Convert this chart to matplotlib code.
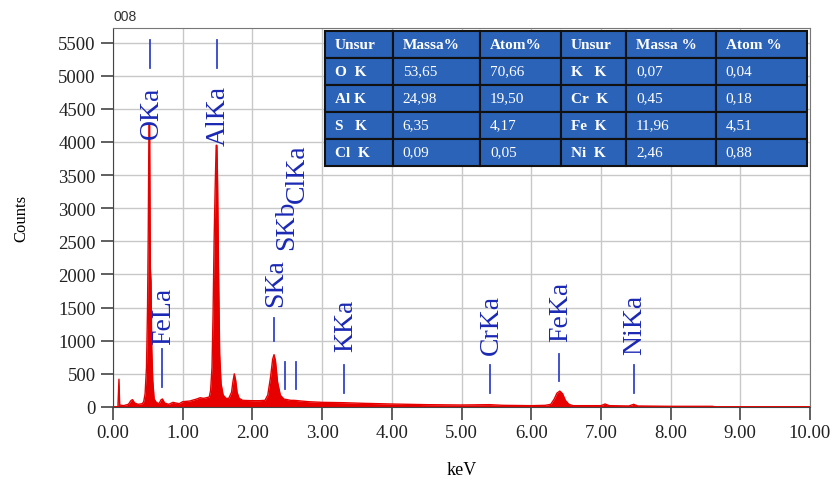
import matplotlib
matplotlib.use('Agg')
import matplotlib.pyplot as plt

# EDS spectrum (keV, counts)
kev = [0.00, 0.07, 0.085, 0.095, 0.15, 0.22, 0.26, 0.28, 0.31, 0.36, 0.42,
       0.44, 0.46, 0.48, 0.495, 0.505, 0.515, 0.525, 0.535, 0.545, 0.555, 0.57, 0.59,
       0.62, 0.66, 0.69, 0.71, 0.74, 0.80, 0.86, 0.90, 0.95,
       1.00, 1.10, 1.20, 1.25, 1.30,
       1.38, 1.40, 1.42, 1.435, 1.45, 1.465, 1.48, 1.49, 1.50, 1.515, 1.53, 1.55, 1.58, 1.62,
       1.66, 1.70, 1.72, 1.74, 1.76, 1.78, 1.81, 1.86, 2.00, 2.10,
       2.18, 2.22, 2.26, 2.29, 2.31, 2.33, 2.36, 2.40, 2.45, 2.55,
       2.60, 2.80, 3.00, 3.30, 3.60, 4.00, 4.50, 5.00, 5.40, 5.60, 6.00, 6.20,
       6.28, 6.33, 6.37, 6.41, 6.45, 6.49, 6.54, 6.60,
       7.00, 7.06, 7.12, 7.40, 7.47, 7.53, 8.00, 8.60, 8.65, 10.00]
counts = [0, 0, 420, 30, 20, 40, 100, 110, 60, 40, 50,
          80, 200, 600, 1500, 2600, 4250, 4250, 2100, 1900, 900, 400, 120,
          70, 50, 110, 120, 60, 40, 70, 60, 50,
          80, 90, 120, 140, 130,
          150, 250, 600, 1400, 2500, 3300, 3950, 3950, 3400, 1950, 800, 350, 180, 130,
          130, 220, 380, 500, 400, 220, 130, 100, 95, 95,
          100, 180, 450, 720, 790, 700, 380, 180, 120, 100,
          100, 80, 70, 65, 55, 45, 35, 30, 35, 25, 20, 25,
          40, 120, 210, 240, 200, 100, 40, 20,
          20, 45, 20, 15, 40, 15, 10, 10, 0, 0]

# peak markers: name, energy, marker line (lo, hi), label bottom
peak_names = ['OKa', 'FeLa', 'AlKa', 'SKa', 'SKb', 'ClKa', 'KKa', 'CrKa', 'FeKa', 'NiKa']
peak_kev = [0.525, 0.705, 1.487, 2.307, 2.464, 2.622, 3.313, 5.411, 6.398, 7.471]
line_lo = [5120, 300, 5120, 990, 270, 270, 210, 210, 390, 210]
line_hi = [5540, 870, 5540, 1350, 680, 680, 630, 630, 800, 630]
label_y = [4060, 950, 3960, 1520, 2380, 3100, 840, 800, 990, 800]

# composition table
col_labels = ['Unsur', 'Massa%', 'Atom%', 'Unsur', 'Massa %', 'Atom %']
rows = [['O  K', '53,65', '70,66', 'K   K', '0,07', '0,04'],
        ['Al K', '24,98', '19,50', 'Cr  K', '0,45', '0,18'],
        ['S   K', '6,35', '4,17', 'Fe  K', '11,96', '4,51'],
        ['Cl  K', '0,09', '0,05', 'Ni  K', '2,46', '0,88']]
col_widths = [67.7, 87.3, 80.7, 65.3, 89.7, 91.6]

serif = 'Liberation Serif'
fig = plt.figure(figsize=(8.33, 4.81), dpi=100)
ax = fig.add_axes([0.1357, 0.1518, 0.8367, 0.7879])

ax.fill_between(kev, counts, 0, color='#e60000', linewidth=0)
ax.plot(kev, counts, color='#e60000', linewidth=1)
ax.plot([0, 10], [0, 0], color='#e60000', linewidth=2)

for name, e, lo, hi, ly in zip(peak_names, peak_kev, line_lo, line_hi, label_y):
    ax.plot([e, e], [lo, hi], color='#3345c8', linewidth=1.3)
    ax.text(e + 0.02, ly, name, rotation=90, ha='center', va='bottom',
            color='#1a28b4', fontsize=20, family=serif)

ax.set_xlim(0, 10)
ax.set_ylim(0, 5720)
ax.set_xticks(range(0, 11))
ax.set_xticklabels(['%.2f' % v for v in range(0, 11)])
ax.set_yticks(range(0, 5501, 500))
ax.grid(True, color='#c8c8c8', linewidth=1)
ax.set_axisbelow(True)
ax.tick_params(direction='out', length=9, width=1.2, colors='#444444',
               labelsize=13.5, labelcolor='#222222')
for lab in ax.get_xticklabels() + ax.get_yticklabels():
    lab.set_family(serif)
for s in ax.spines.values():
    s.set_color('#777777')
ax.spines['left'].set_color('#444444')
ax.spines['bottom'].set_color('#444444')

ax.set_xlabel('keV', family=serif, fontsize=13, labelpad=14)
ax.set_ylabel('Counts', family=serif, fontsize=12, labelpad=21)
ax.text(0.0, 1.012, '008', transform=ax.transAxes, ha='left', va='bottom',
        fontsize=10, family='Liberation Sans', color='#333333')

tw = sum(col_widths)
tbl = ax.table(cellText=rows, colLabels=col_labels,
               colWidths=[w / tw for w in col_widths],
               cellLoc='left', colLoc='left', bbox=[0.304, 0.637, 0.692, 0.356])
tbl.set_zorder(5)
tbl.auto_set_font_size(False)
for (r, c), cell in tbl.get_celld().items():
    cell.set_facecolor('#2b63b8')
    cell.set_edgecolor('#111111')
    cell.set_linewidth(1.5)
    cell.PAD = 10.0 / col_widths[c]
    bold = (r == 0 or c in (0, 3))
    cell.get_text().set_color('white')
    cell.get_text().set_fontsize(11)
    cell.get_text().set_family(serif)
    cell.get_text().set_fontweight('bold' if bold else 'normal')

fig.savefig('out.png', dpi=100)
